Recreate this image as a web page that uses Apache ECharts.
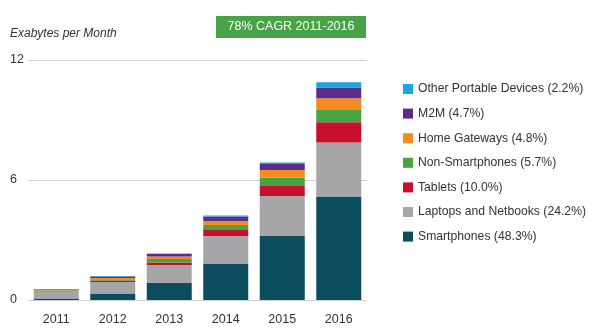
<!DOCTYPE html>
<html>
<head>
<meta charset="utf-8">
<script src="https://cdn.jsdelivr.net/npm/echarts@6/dist/echarts.min.js"></script>
<style>html,body{margin:0;padding:0;background:#fff;}#c{width:600px;height:335px;}</style>
</head>
<body>
<div id="c"></div>
<script>
const years = ['2011','2012','2013','2014','2015','2016'];
const smartphones = [0.08, 0.32, 0.85, 1.83, 3.2, 5.17];
const laptops     = [0.36, 0.58, 0.9, 1.37, 2.0, 2.7];
const tablets     = [0.02, 0.08, 0.13, 0.3, 0.5, 1.02];
const nonSmart    = [0.03, 0.06, 0.17, 0.25, 0.42, 0.65];
const gateways    = [0.02, 0.06, 0.12, 0.2, 0.38, 0.55];
const m2m         = [0.03, 0.08, 0.13, 0.22, 0.3, 0.53];
const otherPort   = [0.01, 0.02, 0.03, 0.05, 0.07, 0.27];
const yTicks = [0, 6, 12];

const seriesDefs = [
  {name:'Smartphones (48.3%)', data:smartphones, color:'#0b4c5f'},
  {name:'Laptops and Netbooks (24.2%)', data:laptops, color:'#a6a6a9'},
  {name:'Tablets (10.0%)', data:tablets, color:'#c8102e'},
  {name:'Non-Smartphones (5.7%)', data:nonSmart, color:'#47a440'},
  {name:'Home Gateways (4.8%)', data:gateways, color:'#f68b1f'},
  {name:'M2M (4.7%)', data:m2m, color:'#5a2d8c'},
  {name:'Other Portable Devices (2.2%)', data:otherPort, color:'#1ba7de'}
];

const chart = echarts.init(document.getElementById('c'), null, {renderer:'canvas'});
chart.setOption({
  animation:false,
  backgroundColor:'#fff',
  textStyle:{fontFamily:'Liberation Sans, Arial, sans-serif'},
  grid:{left:28, right:233, top:60, bottom:35},
  graphic:[
    {type:'text', left:10, top:28, style:{text:'Exabytes per Month', fontStyle:'italic', fontSize:12, fill:'#333', fontFamily:'Liberation Sans, Arial, sans-serif'}},
    {type:'rect', shape:{x:216, y:16, width:150, height:22}, style:{fill:'#47a346'}},
    {type:'text', x:291, y:27, style:{text:'78% CAGR 2011-2016', fontSize:12.5, fill:'#fff', align:'center', verticalAlign:'middle', fontFamily:'Liberation Sans, Arial, sans-serif'}}
  ],
  legend:{
    orient:'vertical', left:398, top:78, itemGap:12.6, itemWidth:10, itemHeight:10,
    icon:'rect',
    data: seriesDefs.map(s=>s.name).slice().reverse(),
    textStyle:{fontSize:12.2, color:'#333'}
  },
  xAxis:{
    type:'category', data:years,
    axisLine:{show:false}, axisTick:{show:false},
    axisLabel:{fontSize:12.5, color:'#333', margin:13}
  },
  yAxis:{
    type:'value', min:0, max:12, interval:6,
    axisLine:{show:false}, axisTick:{show:false},
    splitLine:{lineStyle:{color:'#cfcfcf', width:1}},
    axisLabel:{fontSize:12.5, color:'#333', align:'left', margin:18,
      formatter:v=> yTicks.includes(v) ? String(v) : ''}
  },
  series: seriesDefs.map(s=>({
    name:s.name, type:'bar', stack:'t', data:s.data, barWidth:45,
    itemStyle:{color:s.color}
  }))
});
</script>
</body>
</html>
